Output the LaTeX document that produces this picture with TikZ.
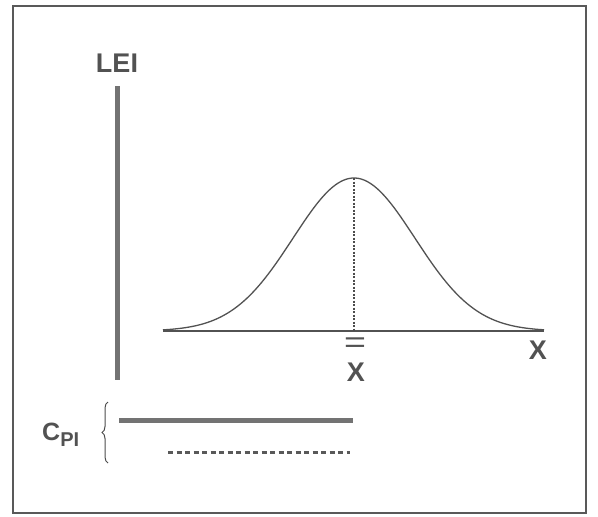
\documentclass[tikz,border=0pt]{standalone}
\usepackage{fontspec}
\setmainfont{Liberation Sans}
\usetikzlibrary{decorations.pathreplacing}
\begin{document}
\begin{tikzpicture}[x=1pt,y=-1pt,
  lbl/.style={text=black!68, inner sep=0pt, font=\fontsize{27}{30}\selectfont\bfseries},
  graybar/.style={draw=black!55, line width=5pt},
  thinline/.style={draw=black!68, line width=1.3pt},
  frame/.style={draw=black!65, line width=2pt}]
\useasboundingbox (0,0) rectangle (598,517);
\draw[frame] (13,6) rectangle (586,513);
% LEI bar
\node[lbl] (lei) at (117,63) {LEI};
\coordinate (leitop) at (117,86);
\coordinate (leibot) at (117,380);
\draw[graybar] (leitop) -- (leibot);
% axis
\coordinate (axl) at (163,331);
\coordinate (axr) at (544,331);
\draw[thinline] (axl) -- (axr);
% bell curve
\draw[thinline] plot[domain=163:544, samples=120, smooth]
  (\x, {331-153*exp(-0.5*((\x-354)/61)^2)});
\coordinate (peak) at (354,178);
\coordinate (mean) at (354,331);
\draw[draw=black!70, line width=1.2pt, dash pattern=on 2pt off 1.5pt] (peak) -- (mean);
\node[lbl, font=\fontsize{30}{34}\selectfont] (bars) at (355,345) {\scalebox{1.25}[1]{=}};
\node[lbl] (xbar) at (356,372) {X};
\node[lbl] (xlab) at (538,350) {X};
% Cpl
\node[lbl, anchor=base west, font=\fontsize{25}{28}\selectfont\bfseries] (cpl) at (42,440)
  {C\raisebox{-6pt}{\fontsize{20}{22}\selectfont\bfseries PI}};
\coordinate (brt) at (108,402);
\coordinate (brb) at (108,463);
\draw[draw=black!70, line width=1pt, decorate, decoration={brace, mirror, amplitude=6pt}] (brt) -- (brb);
\coordinate (cpa) at (119,420);
\coordinate (cpb) at (353,420);
\draw[graybar] (cpa) -- (cpb);
\coordinate (cpc) at (168,452);
\coordinate (cpd) at (350,452);
\draw[draw=black!65, line width=3pt, dash pattern=on 5pt off 3.5pt] (cpc) -- (cpd);
\end{tikzpicture}
\end{document}
